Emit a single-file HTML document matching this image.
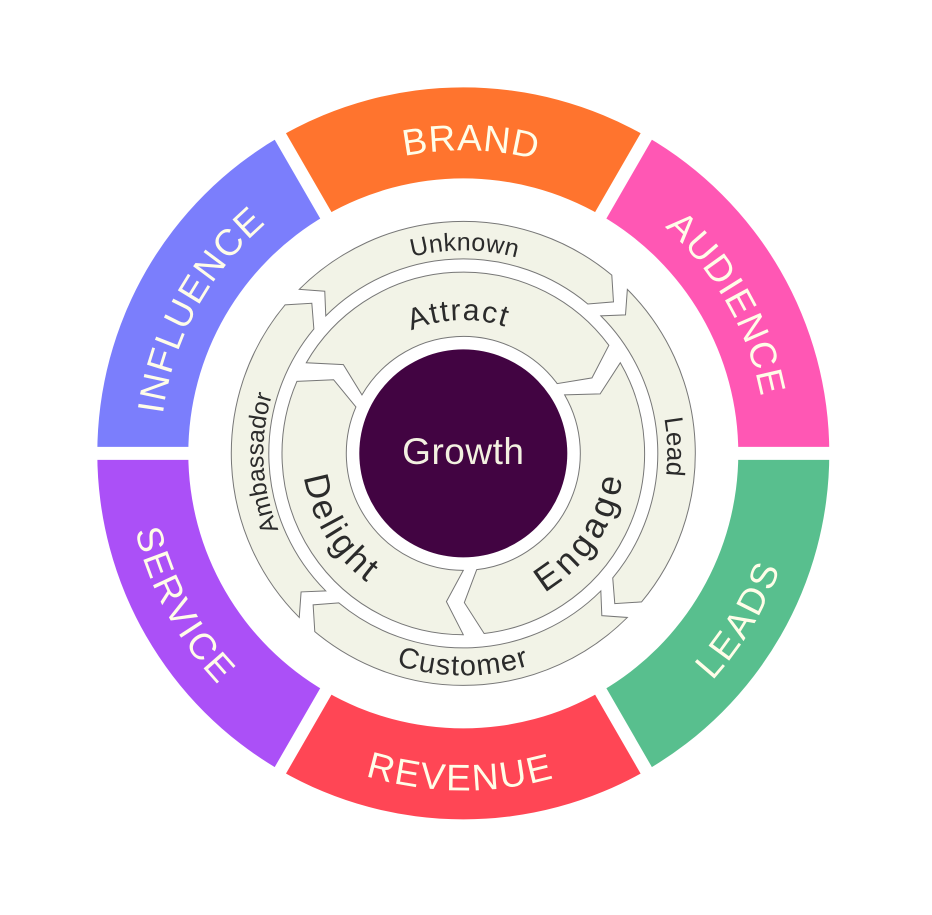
<!DOCTYPE html>
<html>
<head>
<meta charset="utf-8">
<style>
html,body{margin:0;padding:0;background:#ffffff;}
svg{display:block;}
text{font-family:"Liberation Sans",Arial,sans-serif;}
</style>
</head>
<body>
<svg width="932" height="915" viewBox="0 0 932 915" xmlns="http://www.w3.org/2000/svg">
<defs>
  <path id="cw303" d="M -298.40,-52.62 A 303 303 0 0 1 298.40,-52.62"/>
  <path id="ccw337" d="M -331.88,58.52 A 337 337 0 0 0 331.88,58.52"/>
  <path id="cw203" d="M -199.92,-35.25 A 203 203 0 0 1 199.92,-35.25"/>
  <path id="cw204" d="M -200.90,-35.42 A 204 204 0 0 1 200.90,-35.42"/>
  <path id="cw200" d="M -196.96,-34.73 A 200 200 0 0 1 196.96,-34.73"/>
  <path id="ccw222" d="M -218.63,38.55 A 222 222 0 0 0 218.63,38.55"/>
  <path id="cw133" d="M -131.37,-23.16 A 133.4 133.4 0 0 1 131.37,-23.16"/>
  <path id="ccw161" d="M -158.55,27.96 A 161 161 0 0 0 158.55,27.96"/>
  <path id="outerArrow" d="M -164.05,-164.05 A 232 232 0 0 1 148.51,-178.24 L 150.17,-151.48 L 124.50,-149.43 A 194.5 194.5 0 0 0 -137.53,-137.53 L -138.53,-162.20 Z"/>
  <path id="innerArrow" d="M -157.01,-90.65 A 181.3 181.3 0 0 1 145.55,-108.10 L 128.69,-75.50 L 93.93,-69.76 A 117 117 0 0 0 -101.33,-58.5 L -119.94,-88.75 Z"/>
</defs>

<g transform="translate(463.3,453.4)">
  <!-- colored outer ring -->
  <path d="M 183,-316.97 A 366 366 0 0 0 -183,-316.97 L -137.5,-238.16 A 275 275 0 0 1 137.5,-238.16 Z" fill="#FF742E"/>
  <path d="M 366,0 A 366 366 0 0 0 183,-316.97 L 137.5,-238.16 A 275 275 0 0 1 275,0 Z" fill="#FF57B4"/>
  <path d="M -183,-316.97 A 366 366 0 0 0 -366,0 L -275,0 A 275 275 0 0 1 -137.5,-238.16 Z" fill="#7B7EFC"/>
  <path d="M -366,0 A 366 366 0 0 0 -183,316.97 L -137.5,238.16 A 275 275 0 0 1 -275,0 Z" fill="#AB50F7"/>
  <path d="M -183,316.97 A 366 366 0 0 0 183,316.97 L 137.5,238.16 A 275 275 0 0 1 -137.5,238.16 Z" fill="#FF4655"/>
  <path d="M 183,316.97 A 366 366 0 0 0 366,0 L 275,0 A 275 275 0 0 1 137.5,238.16 Z" fill="#58BF8E"/>

  <!-- white gaps -->
  <g stroke="#ffffff" stroke-width="13">
    <line x1="265" y1="0" x2="375" y2="0"/>
    <line x1="-265" y1="0" x2="-375" y2="0"/>
    <line x1="132.5" y1="-229.5" x2="187.5" y2="-324.8"/>
    <line x1="-132.5" y1="-229.5" x2="-187.5" y2="-324.8"/>
    <line x1="-132.5" y1="229.5" x2="-187.5" y2="324.8"/>
    <line x1="132.5" y1="229.5" x2="187.5" y2="324.8"/>
  </g>

  <!-- colored labels -->
  <g font-size="37" fill="#FFFDE8" text-anchor="middle">
    <text letter-spacing="0.8" transform="rotate(1.4)"><textPath href="#cw303" startOffset="50%">BRAND</textPath></text>
    <text letter-spacing="1" transform="rotate(60.5)"><textPath href="#cw303" startOffset="50%">AUDIENCE</textPath></text>
    <text letter-spacing="1.5" transform="rotate(-61.5)"><textPath href="#cw303" startOffset="50%">INFLUENCE</textPath></text>
    <text letter-spacing="2" transform="rotate(0.5)"><textPath href="#ccw337" startOffset="50%">REVENUE</textPath></text>
    <text letter-spacing="2.5" transform="rotate(-59)"><textPath href="#ccw337" startOffset="50%">LEADS</textPath></text>
    <text letter-spacing="2.5" transform="rotate(61.5)"><textPath href="#ccw337" startOffset="50%">SERVICE</textPath></text>
  </g>

  <!-- arrow rings -->
  <g fill="#F2F3E7" stroke="#777777" stroke-width="1">
    <use href="#outerArrow"/>
    <use href="#outerArrow" transform="rotate(90)"/>
    <use href="#outerArrow" transform="rotate(180)"/>
    <use href="#outerArrow" transform="rotate(270)"/>
    <use href="#innerArrow"/>
    <use href="#innerArrow" transform="rotate(120)"/>
    <use href="#innerArrow" transform="rotate(240)"/>
  </g>

  <!-- arrow labels -->
  <g fill="#2B2B2B" text-anchor="middle">
    <text font-size="25" letter-spacing="0.3" transform="rotate(0.35)"><textPath href="#cw203" startOffset="50%">Unknown</textPath></text>
    <text font-size="26" transform="rotate(88.15)"><textPath href="#cw204" startOffset="50%">Lead</textPath></text>
    <text font-size="24.5" transform="rotate(-92.75)"><textPath href="#cw200" startOffset="50%">Ambassador</textPath></text>
    <text font-size="29" letter-spacing="1.3"><textPath href="#ccw222" startOffset="50%">Customer</textPath></text>
    <text font-size="30" letter-spacing="1.5" transform="rotate(-2.1)"><textPath href="#cw133" startOffset="50%">Attract</textPath></text>
    <text font-size="35" letter-spacing="4.5" transform="rotate(-56.5)"><textPath href="#ccw161" startOffset="50%">Engage</textPath></text>
    <text font-size="35" letter-spacing="2.8" transform="rotate(58.75)"><textPath href="#ccw161" startOffset="50%">Delight</textPath></text>
  </g>

  <!-- center -->
  <circle cx="0" cy="0" r="104" fill="#420442"/>
  <text x="0" y="10.6" font-size="37" letter-spacing="0.5" fill="#F3F1E1" text-anchor="middle">Growth</text>
</g>
</svg>
</body>
</html>
